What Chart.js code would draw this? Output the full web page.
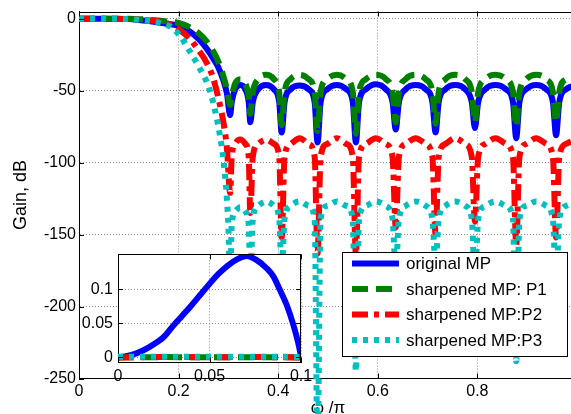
<!DOCTYPE html>
<html>
<head>
<meta charset="utf-8">
<script src="https://cdn.jsdelivr.net/npm/chart.js@4"></script>
<style>
html, body { margin: 0; padding: 0; background: #fff; overflow: hidden; }
#wrap { position: relative; width: 571px; height: 414px; overflow: hidden; }
#main { position: absolute; left: 0; top: 0; }
#inset { position: absolute; left: 78px; top: 250px; }
</style>
</head>
<body>
<div id="wrap">
<canvas id="main" width="577" height="414"></canvas>
<canvas id="inset" width="240" height="135"></canvas>
</div>
<script>
// series names
const names = ['original MP', 'sharpened MP: P1', 'sharpened MP:P2', 'sharpened MP:P3'];

// axis ticks
const xTicks = [0, 0.2, 0.4, 0.6, 0.8];
const yTicks = [-250, -200, -150, -100, -50, 0];
const insetXTicks = [0, 0.05, 0.1];
const insetYTicks = [0, 0.05, 0.1];

// passband + transition (omega/pi, dB)
const blueEdgeW = [0, 0.05, 0.1, 0.12, 0.14, 0.16, 0.18, 0.2, 0.223, 0.24, 0.257, 0.27, 0.28, 0.29, 0.297];
const blueEdge  = [0, 0, -0.3, -0.9, -1.7, -2.6, -3.6, -5, -9, -14, -21, -28, -34, -43, -52];
const greenEdgeW = [0, 0.05, 0.1, 0.12, 0.14, 0.16, 0.18, 0.2, 0.223, 0.24, 0.257, 0.27, 0.28, 0.29, 0.297];
const greenEdge  = [0, 0, -0.1, -0.3, -0.7, -1.3, -2.1, -3, -6, -10, -16, -23, -30, -40, -49];
const redEdgeW = [0, 0.05, 0.1, 0.12, 0.14, 0.163, 0.18, 0.203, 0.22, 0.236, 0.257, 0.27, 0.283, 0.29, 0.297];
const redEdge  = [0, 0, -0.2, -0.6, -1.1, -2, -3.5, -8, -13, -20, -31, -42, -60, -72, -90];
const cyanEdgeW = [0, 0.05, 0.1, 0.12, 0.14, 0.16, 0.183, 0.203, 0.223, 0.24, 0.26, 0.27, 0.283, 0.29, 0.297, 0.3];
const cyanEdge  = [0, 0, -0.3, -0.8, -1.5, -2.7, -5.5, -12, -23, -33, -47, -59, -81, -98, -125, -145];

// stopband frequencies (nulls and lobes)
const stopW = [
  0.3035, 0.3067, 0.3136, 0.3238, 0.334, 0.3408,
  0.344, 0.349, 0.3598, 0.3755, 0.3913, 0.402,
  0.407, 0.4128, 0.425, 0.443, 0.461, 0.4732,
  0.479, 0.4852, 0.4983, 0.5175, 0.5368, 0.5498,
  0.556, 0.5624, 0.576, 0.596, 0.616, 0.6296,
  0.636, 0.6424, 0.656, 0.676, 0.696, 0.7096,
  0.716, 0.7223, 0.7358, 0.7555, 0.7753, 0.7887,
  0.795, 0.8016, 0.8158, 0.8365, 0.8573, 0.8714,
  0.878, 0.8844, 0.898, 0.918, 0.938, 0.9516,
  0.958, 0.9644, 0.978, 1.0
];
const blueStop = [
  -67, -58, -49, -46, -49, -58,
  -72, -58, -49, -46, -49, -58,
  -79, -58, -49, -46.5, -49, -58,
  -86, -58, -49, -46, -49, -58,
  -86, -58, -49, -45.5, -49, -58,
  -77, -58, -49, -46, -49, -58,
  -79, -58, -49, -46, -49, -58,
  -76, -58, -49, -46, -49, -58,
  -83, -58, -49, -46, -49, -58,
  -81, -58, -49, -46.5
];
const greenStop = [
  -60, -54, -45, -42, -45, -54,
  -66, -51, -42, -39, -42, -51,
  -74, -51, -42, -39, -42, -51,
  -78, -51, -42, -39, -42, -51,
  -80, -51, -42, -39, -42, -51,
  -72, -51, -42, -39, -42, -51,
  -73, -51, -42, -39, -42, -51,
  -72, -51, -42, -39, -42, -51,
  -75, -51, -42, -39, -42, -51,
  -72, -51, -42, -39.5
];
const redStop = [
  -121, -96, -87, -84, -87, -96,
  -135, -96, -87, -84, -87, -96,
  -152, -96, -87, -83, -87, -96,
  -163, -96, -87, -83, -87, -96,
  -164, -96, -87, -83, -87, -96,
  -145, -96, -87, -83, -87, -96,
  -150, -96, -87, -83, -87, -96,
  -141, -96, -87, -83, -87, -96,
  -157, -96, -87, -83, -87, -96,
  -152, -96, -87, -83.5
];
const cyanStop = [
  -185, -143, -134, -131, -134, -143,
  -180, -139, -130, -127, -130, -139,
  -175, -139, -130, -127, -130, -139,
  -300, -139, -130, -127, -130, -139,
  -245, -139, -130, -127, -130, -139,
  -175, -139, -130, -127, -130, -139,
  -170, -139, -130, -127, -130, -139,
  -180, -139, -130, -127, -130, -139,
  -238, -139, -130, -127, -130, -139,
  -185, -139, -130, -127.5
];

// inset: passband detail
const insetW = [0, 0.005, 0.01, 0.015, 0.02, 0.025, 0.03, 0.035, 0.04, 0.045, 0.05, 0.055, 0.06, 0.065, 0.0703, 0.0758, 0.0812, 0.0849, 0.0885, 0.0922, 0.0958, 0.0985, 0.1];
const insetBlue = [0, 0.002, 0.006, 0.012, 0.02, 0.03, 0.046, 0.061, 0.076, 0.092, 0.108, 0.123, 0.135, 0.144, 0.149, 0.143, 0.131, 0.119, 0.099, 0.077, 0.048, 0.021, 0.002];
const insetFlatW = [0, 0.025, 0.05, 0.075, 0.1];
const insetGreen = [0, 0.0004, 0.0002, 0.0003, 0];
const insetRed = [0, 0.0006, 0.0003, 0.0005, 0];
const insetCyan = [0.0008, 0.001, 0.0009, 0.001, 0.0007];

Chart.defaults.font.family = "'Liberation Sans', Arial, sans-serif";
Chart.defaults.color = '#000';

function pts(xs, ys) {
  return xs.map((x, i) => ({x: x, y: ys[i]}));
}

const looks = [
  {color: '#0000ff', dash: [], order: 3},
  {color: '#008000', dash: [16, 8], order: 2},
  {color: '#ff0000', dash: [16, 6, 5, 6], order: 1},
  {color: '#00bfbf', dash: [5, 6], order: 0}
];

function makeSet(i, data, extra) {
  return Object.assign({
    label: names[i],
    data: data,
    borderColor: looks[i].color,
    borderDash: looks[i].dash,
    borderWidth: 6,
    borderCapStyle: 'butt',
    pointRadius: 0,
    fill: false,
    cubicInterpolationMode: 'monotone',
    order: looks[i].order
  }, extra || {});
}

// fixed axis sizes, no label padding pushing the plot area
function fixW(w) {
  return s => { s.width = w; s.paddingTop = 0; s.paddingBottom = 0; };
}
function fixH(h) {
  return s => { s.height = h; };
}

// inward tick marks + box edges
function tickMarks(ctx, chart, box) {
  const a = chart.chartArea;
  const xs = chart.scales.x, ys = chart.scales.y;
  ctx.save();
  ctx.strokeStyle = '#000';
  ctx.lineWidth = 1;
  ctx.beginPath();
  xs.ticks.forEach(t => {
    const p = Math.round(xs.getPixelForValue(t.value)) + 0.5;
    ctx.moveTo(p, a.bottom); ctx.lineTo(p, a.bottom - 5);
    ctx.moveTo(p, a.top); ctx.lineTo(p, a.top + 5);
  });
  ys.ticks.forEach(t => {
    const p = Math.round(ys.getPixelForValue(t.value)) + 0.5;
    ctx.moveTo(a.left, p); ctx.lineTo(a.left + 5, p);
    if (box) { ctx.moveTo(a.right, p); ctx.lineTo(a.right - 5, p); }
  });
  ctx.stroke();
  ctx.beginPath();
  const t0 = Math.round(a.top) + 0.5;
  ctx.moveTo(a.left, t0); ctx.lineTo(a.right, t0);
  if (box) {
    const r0 = Math.round(a.right) - 0.5;
    ctx.moveTo(r0, a.top); ctx.lineTo(r0, a.bottom);
  }
  ctx.stroke();
  ctx.restore();
}

const mainFrame = {
  id: 'mainFrame',
  afterDraw(chart) {
    const ctx = chart.ctx;
    tickMarks(ctx, chart, false);
    // legend box
    ctx.save();
    ctx.fillStyle = '#fff';
    ctx.fillRect(342, 252, 225, 104);
    ctx.strokeStyle = '#000';
    ctx.lineWidth = 1;
    ctx.strokeRect(342.5, 252.5, 225, 104);
    chart.data.datasets.forEach((ds, i) => {
      const y = 263.5 + i * 25.5;
      ctx.beginPath();
      ctx.setLineDash(ds.borderDash);
      ctx.lineWidth = ds.borderWidth;
      ctx.strokeStyle = ds.borderColor;
      ctx.lineCap = 'butt';
      ctx.moveTo(352, y);
      ctx.lineTo(399, y);
      ctx.stroke();
      ctx.setLineDash([]);
      ctx.fillStyle = '#000';
      ctx.font = "17px 'Liberation Sans'";
      ctx.textBaseline = 'middle';
      ctx.fillText(ds.label, 406, y + 1);
    });
    ctx.restore();
  }
};

const insetFrame = {
  id: 'insetFrame',
  beforeDraw(chart) {
    const a = chart.chartArea;
    chart.ctx.save();
    chart.ctx.fillStyle = '#fff';
    chart.ctx.fillRect(a.left, a.top, a.right - a.left, a.bottom - a.top);
    chart.ctx.restore();
  },
  afterDraw(chart) {
    tickMarks(chart.ctx, chart, true);
  }
};

const gridStyle = {color: '#8c8c8c', lineWidth: 1, drawTicks: false};
const borderStyle = {display: true, color: '#000', width: 1, dash: [1, 2]};

new Chart(document.getElementById('main'), {
  type: 'line',
  data: {
    datasets: [
      makeSet(0, pts(blueEdgeW.concat(stopW), blueEdge.concat(blueStop))),
      makeSet(1, pts(greenEdgeW.concat(stopW), greenEdge.concat(greenStop))),
      makeSet(2, pts(redEdgeW.concat(stopW), redEdge.concat(redStop))),
      makeSet(3, pts(cyanEdgeW.concat(stopW), cyanEdge.concat(cyanStop)), {clip: {left: 0, top: 0, right: 0, bottom: 40}})
    ]
  },
  options: {
    responsive: false,
    animation: false,
    events: [],
    layout: {padding: {top: 11.5, right: 0, bottom: 0, left: 0}},
    plugins: {legend: {display: false}, tooltip: {enabled: false}},
    scales: {
      x: {
        type: 'linear', min: 0, max: 1,
        afterBuildTicks: s => { s.ticks = xTicks.map(v => ({value: v})); },
        afterFit: fixH(35.5),
        grid: gridStyle, border: borderStyle,
        ticks: {padding: 3, font: {size: 16}, maxRotation: 0, callback: v => String(v)},
        title: {display: true, text: 'ω /π', font: {size: 17, lineHeight: 1}, padding: {top: 0, bottom: -2.5}}
      },
      y: {
        type: 'linear', min: -250, max: 5,
        afterBuildTicks: s => { s.ticks = yTicks.map(v => ({value: v})); },
        afterFit: fixW(79),
        grid: gridStyle, border: borderStyle,
        ticks: {padding: 3, font: {size: 16}, callback: v => String(v)},
        title: {display: true, text: 'Gain, dB', font: {size: 18}, padding: {top: 10, bottom: 0}}
      }
    }
  },
  plugins: [mainFrame]
});

new Chart(document.getElementById('inset'), {
  type: 'line',
  data: {
    datasets: [
      makeSet(0, pts(insetW, insetBlue)),
      makeSet(1, pts(insetFlatW, insetGreen)),
      makeSet(2, pts(insetFlatW, insetRed)),
      makeSet(3, pts(insetFlatW, insetCyan))
    ]
  },
  options: {
    responsive: false,
    animation: false,
    events: [],
    layout: {padding: {top: 4.3, right: 17, bottom: 0, left: 0}},
    plugins: {legend: {display: false}, tooltip: {enabled: false}},
    scales: {
      x: {
        type: 'linear', min: 0, max: 0.1,
        afterBuildTicks: s => { s.ticks = insetXTicks.map(v => ({value: v})); },
        afterFit: fixH(22.5),
        grid: gridStyle, border: borderStyle,
        ticks: {padding: 4, font: {size: 16}, maxRotation: 0, autoSkip: false, callback: v => String(v)}
      },
      y: {
        type: 'linear', min: -0.0075, max: 0.1515,
        afterBuildTicks: s => { s.ticks = insetYTicks.map(v => ({value: v})); },
        afterFit: fixW(40),
        grid: gridStyle, border: borderStyle,
        ticks: {padding: 5, font: {size: 16}, callback: v => String(v)}
      }
    }
  },
  plugins: [insetFrame]
});
</script>
</body>
</html>
